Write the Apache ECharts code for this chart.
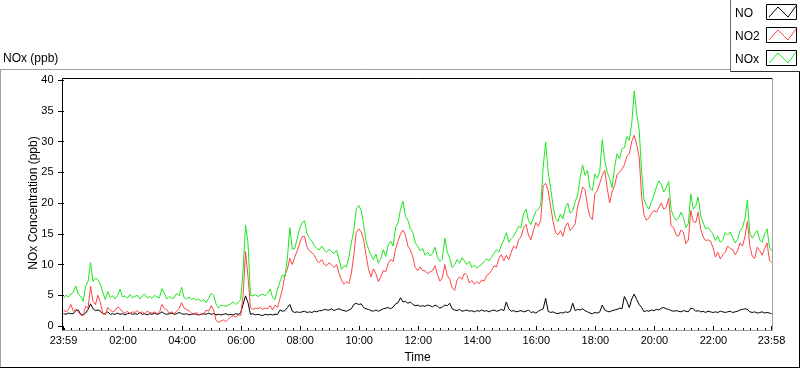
<!DOCTYPE html>
<html><head><meta charset="utf-8">
<script src="https://cdn.jsdelivr.net/npm/echarts@6/dist/echarts.min.js"></script>
<style>html,body{margin:0;padding:0;background:#fff;}#c{width:800px;height:369px;}</style>
</head><body><div id="c"></div>
<script>
// ---- data ----
const seriesNames = ['NO', 'NO2', 'NOx'];
const chartTitle = 'NOx (ppb)';
const yAxisTitle = 'NOx Concentration (ppb)';
const xAxisTitle = 'Time';
// x axis: minutes after midnight (23:59 of the previous day = -1)
const tickMinutes = [-1, 120, 240, 360, 480, 600, 720, 840, 960, 1080, 1200, 1320, 1438];
const tickLabels = ['23:59', '02:00', '04:00', '06:00', '08:00', '10:00', '12:00', '14:00', '16:00', '18:00', '20:00', '22:00', '23:58'];
const minorTickStepMin = 15;
const yMin = 0, yMax = 40, yStep = 5;
// samples every 5 minutes starting at 23:59
const sampleStartMin = -1, sampleStepMin = 5, sampleEndMin = 1438;

const NO = [
2.0,1.9,2.1,2.0,2.0,2.5,2.6,1.9,1.8,2.1,
2.7,3.6,2.8,2.5,2.6,2.4,2.0,2.0,2.3,1.9,
2.0,1.9,2.1,1.9,2.0,1.8,2.0,2.1,1.9,2.0,
1.9,2.2,1.9,2.0,1.8,2.0,1.9,2.1,1.9,2.0,
2.3,2.0,1.9,2.0,2.1,1.9,2.0,2.2,2.0,1.9,
2.0,1.8,1.9,2.0,1.9,1.8,1.9,2.0,1.9,2.1,
1.9,2.0,1.8,1.9,1.8,1.9,2.0,1.8,1.9,1.8,
2.0,1.9,2.1,3.5,4.9,3.8,1.9,2.0,1.8,1.9,
1.8,1.7,1.9,1.8,1.9,1.8,1.9,1.9,2.6,2.4,
2.5,3.0,3.5,2.4,2.2,2.3,2.2,2.3,2.4,2.2,
2.3,2.2,2.4,2.3,2.5,2.5,2.7,2.6,2.6,2.8,
2.5,2.7,2.8,2.6,2.5,2.4,2.6,2.8,3.5,3.7,
3.5,3.6,3.0,2.8,2.7,2.5,2.4,2.6,2.4,2.6,
2.8,2.9,3.0,2.8,3.1,3.6,3.8,4.6,3.9,4.0,
3.7,3.9,3.5,3.3,3.4,3.2,3.3,3.2,3.4,3.3,
3.1,3.4,3.2,2.9,3.1,3.4,3.3,3.7,2.8,2.6,
2.5,2.7,2.4,2.5,2.6,2.4,2.5,2.3,2.5,2.4,
2.6,2.4,2.5,2.3,2.5,2.6,2.4,2.5,2.7,2.5,
3.9,2.8,2.4,2.5,2.3,2.4,2.5,2.3,2.4,2.6,
2.2,2.3,2.1,2.4,2.6,2.8,4.5,2.4,2.2,2.3,
2.1,2.0,2.2,2.1,2.3,2.2,2.4,3.7,2.5,2.7,
2.6,2.8,2.5,2.3,2.1,2.0,2.2,2.1,2.3,3.4,
2.6,2.4,2.3,2.5,2.6,2.7,2.9,2.8,4.8,4.0,
3.0,4.4,5.2,4.3,3.5,3.0,2.3,2.5,2.4,2.6,
2.5,2.7,2.6,2.9,3.0,2.8,2.7,2.5,2.4,2.5,
2.4,2.3,2.5,2.4,2.3,2.9,2.8,2.4,2.5,2.3,
2.4,2.2,2.4,2.3,2.2,2.3,2.2,2.4,2.3,2.2,
2.3,2.4,2.2,2.3,2.4,2.6,2.7,2.8,2.7,2.3,
2.2,2.3,2.1,2.2,2.3,2.1,2.2,2.1,2.0
];

const NO2 = [
2.6,2.3,2.7,3.5,2.4,2.8,2.3,1.8,1.7,3.2,
2.9,6.5,4.0,3.5,5.0,3.8,2.0,1.9,3.0,2.6,
2.3,2.5,3.1,2.8,2.3,2.1,2.4,2.0,2.3,2.2,
2.5,2.1,2.3,2.0,2.4,2.2,2.1,2.3,2.0,2.2,
3.5,2.9,2.6,2.1,2.3,2.0,2.4,2.8,3.8,2.9,
2.7,2.5,2.1,1.9,2.2,1.8,2.0,1.9,2.6,2.4,
3.3,2.6,0.9,0.6,0.8,1.0,0.7,1.1,1.5,1.7,
1.4,1.8,1.7,5.0,12.1,8.0,3.0,2.7,2.9,2.8,
3.0,2.7,2.9,2.8,3.3,2.6,3.4,3.0,4.5,6.0,
8.3,9.2,11.0,10.0,11.2,12.2,13.5,14.5,14.6,12.8,
12.2,11.9,11.5,10.6,10.3,10.8,10.0,9.8,10.3,9.9,
9.5,10.0,8.6,7.5,6.8,7.2,6.9,8.5,11.5,15.2,
15.8,15.3,14.0,11.5,9.2,8.0,9.3,8.5,7.2,8.0,
9.0,8.8,10.2,10.8,10.5,12.5,13.8,15.0,15.6,14.8,
13.0,12.4,11.2,9.5,9.0,9.6,9.0,9.0,8.5,8.8,
9.0,9.8,8.4,7.3,7.8,10.0,8.2,7.6,6.2,5.8,
7.5,8.0,7.6,8.6,8.2,7.0,7.4,6.8,7.2,6.9,
7.5,7.3,8.2,8.5,9.0,9.8,9.6,11.0,11.6,10.6,
11.5,10.8,12.0,13.0,12.6,14.0,14.5,16.0,16.5,14.8,
14.0,15.5,16.8,16.2,17.2,22.8,23.2,22.0,19.5,17.0,
15.2,14.8,15.5,14.6,16.2,16.8,15.5,16.0,16.6,19.5,
20.8,22.6,22.2,19.5,17.8,17.3,21.5,22.0,23.2,24.5,
25.3,22.5,20.0,21.8,22.8,24.6,25.0,25.5,26.2,27.6,
28.0,30.0,31.0,29.5,27.5,21.0,18.0,17.2,17.6,18.3,
18.8,18.5,19.2,20.0,19.0,19.3,20.8,16.3,16.0,14.8,
14.6,15.6,15.2,13.4,14.0,18.8,17.0,16.8,18.5,15.8,
14.5,13.9,14.0,13.8,12.8,11.2,12.0,10.9,11.6,12.0,
13.0,12.6,12.4,11.6,12.2,13.5,13.0,14.5,17.0,13.0,
11.3,11.0,12.8,12.3,11.5,12.6,13.5,10.6,10.3
];

const NOx = [
4.5,5.0,4.7,5.2,5.5,6.5,5.2,4.8,4.0,6.5,
7.3,10.3,7.2,7.8,7.5,6.8,5.5,4.3,5.6,4.6,
4.9,4.4,5.0,6.0,4.7,4.9,4.5,5.1,4.6,4.8,
5.0,4.4,4.9,5.2,4.6,4.8,4.5,5.0,4.7,4.6,
6.1,5.3,4.4,4.8,4.5,4.6,5.3,4.9,6.3,4.6,
4.4,4.7,4.3,4.5,4.2,4.4,4.0,4.3,3.8,4.5,
5.3,5.0,3.6,2.9,3.4,3.3,3.2,3.4,3.6,3.9,
3.5,3.8,4.3,9.0,16.4,13.5,5.0,4.9,5.1,4.8,
5.0,5.2,4.9,5.3,6.0,4.6,4.3,6.0,7.2,8.3,
8.0,11.0,16.0,12.5,12.6,14.2,15.8,16.8,17.1,15.0,
14.2,13.8,13.0,12.6,12.4,13.0,12.3,12.0,12.5,12.1,
11.8,12.3,10.8,9.2,9.8,9.6,11.2,13.5,15.5,19.0,
19.6,18.8,16.5,13.8,12.5,11.5,10.8,11.7,10.2,11.0,
12.4,11.3,13.2,13.8,13.0,16.0,16.8,19.0,20.3,17.8,
17.2,15.8,15.2,13.5,13.0,12.2,12.6,11.5,12.0,11.4,
11.8,12.8,11.2,10.5,10.9,14.3,12.0,11.0,9.5,10.0,
10.8,10.2,11.1,10.6,10.0,10.5,9.5,9.9,9.4,9.8,
10.0,10.5,10.9,10.6,11.2,11.8,12.4,12.0,13.2,14.0,
15.2,13.6,14.2,14.6,15.4,16.2,16.0,18.3,19.0,17.2,
16.5,17.6,18.6,19.0,19.6,25.9,29.9,25.0,22.5,19.5,
17.5,17.0,18.2,17.4,19.2,20.0,18.3,18.8,20.2,21.3,
24.0,26.2,24.5,25.3,22.4,22.0,24.7,24.0,25.2,30.3,
27.0,25.0,24.0,22.5,25.8,28.0,27.2,28.8,29.0,30.8,
30.2,33.0,38.2,34.5,32.0,25.0,20.5,19.6,19.0,20.2,
21.2,22.6,23.6,23.0,21.8,22.5,23.5,18.9,17.8,17.2,
17.5,18.5,17.6,16.0,16.6,21.5,19.0,19.5,21.0,18.0,
16.8,15.8,16.0,15.5,15.0,13.9,14.6,13.6,14.0,15.2,
14.8,15.3,14.4,13.5,14.0,15.5,16.0,17.5,20.5,15.0,
14.3,15.0,15.5,14.0,13.6,15.0,15.8,12.8,12.2
];

// ---- styles / layout ----
const colors = { NO: '#000000', NO2: '#ff4545', NOx: '#1ee61e' };
const FONT = 'Liberation Sans';
const GL = 63.5, GT = 80, GW = 708, GH = 249.5;

function pairs(vals) {
  return vals.map((v, i) => [Math.min(sampleStartMin + i * sampleStepMin, sampleEndMin), v]);
}
const minorTicks = [];
for (let m = 0; m <= sampleEndMin; m += minorTickStepMin) minorTicks.push(m);

const chart = echarts.init(document.getElementById('c'), null, { renderer: 'canvas' });

// legend drawn as graphics (LabVIEW-style plot legend)
const legendEls = [];
const lx = 730.5;
legendEls.push({ type: 'rect', shape: { x: lx, y: -1, width: 800 - lx + 1, height: 72.5 }, style: { fill: '#fff', stroke: null }, z: 10 });
legendEls.push({ type: 'line', shape: { x1: lx, y1: 0, x2: lx, y2: 71.5 }, style: { stroke: '#6e6e6e', lineWidth: 1 }, z: 11 });
legendEls.push({ type: 'line', shape: { x1: lx, y1: 71.5, x2: 800, y2: 71.5 }, style: { stroke: '#303030', lineWidth: 1 }, z: 11 });
seriesNames.forEach((n, k) => {
  const y0 = 4 + k * 23;
  legendEls.push({ type: 'text', x: 735, y: y0 + 9.5, style: { text: n, font: '12px ' + FONT, fill: '#000', verticalAlign: 'middle', align: 'left' }, z: 12 });
  legendEls.push({ type: 'rect', shape: { x: 766.5, y: y0 + 0.5, width: 30, height: 15 }, style: { fill: '#fff', stroke: '#000', lineWidth: 1 }, z: 12 });
  legendEls.push({ type: 'polyline', shape: { points: [[769, y0 + 13], [778, y0 + 3], [788, y0 + 13], [796, y0 + 2]] }, style: { stroke: colors[n], lineWidth: 1, fill: null }, z: 13 });
});

const frameEls = [
  // outer panel
  { type: 'line', shape: { x1: 0, y1: 69.5, x2: lx, y2: 69.5 }, style: { stroke: '#a0a0a0', lineWidth: 1 }, z: 5 },
  { type: 'line', shape: { x1: 0.5, y1: 69.5, x2: 0.5, y2: 368 }, style: { stroke: '#a0a0a0', lineWidth: 1 }, z: 5 },
  { type: 'line', shape: { x1: 0, y1: 367.5, x2: 800, y2: 367.5 }, style: { stroke: '#000', lineWidth: 1 }, z: 5 },
  { type: 'line', shape: { x1: 799.5, y1: 71, x2: 799.5, y2: 368 }, style: { stroke: '#000', lineWidth: 1 }, z: 5 },
  // plot frame
  { type: 'line', shape: { x1: 62.5, y1: 78.5, x2: 772.5, y2: 78.5 }, style: { stroke: '#000', lineWidth: 1 }, z: 5 },
  { type: 'line', shape: { x1: 62.5, y1: 78.5, x2: 62.5, y2: 330.5 }, style: { stroke: '#000', lineWidth: 1 }, z: 5 },
  { type: 'line', shape: { x1: 62.5, y1: 330.5, x2: 772.5, y2: 330.5 }, style: { stroke: '#a0a0a0', lineWidth: 1 }, z: 5 },
  { type: 'line', shape: { x1: 772.5, y1: 78.5, x2: 772.5, y2: 330.5 }, style: { stroke: '#a0a0a0', lineWidth: 1 }, z: 5 }
];

const option = {
  animation: false,
  backgroundColor: '#fff',
  title: { text: chartTitle, left: 3, top: 53, padding: 0, textStyle: { fontFamily: FONT, fontSize: 12, fontWeight: 'normal', color: '#000' } },
  grid: { left: GL, top: GT, width: GW, height: GH, containLabel: false },
  xAxis: [{
    type: 'value', min: tickMinutes[0], max: tickMinutes[tickMinutes.length - 1], offset: 2,
    name: xAxisTitle, nameLocation: 'middle', nameGap: 24, nameMoveOverlap: false,
    nameTextStyle: { fontFamily: FONT, fontSize: 12, color: '#000', verticalAlign: 'top' },
    axisLine: { show: false },
    axisTick: { show: true, length: 5, customValues: tickMinutes, lineStyle: { color: '#000', width: 1 } },
    axisLabel: { show: true, customValues: tickMinutes, margin: 7, fontFamily: FONT, fontSize: 11, color: '#000',
      formatter: v => { const k = tickMinutes.indexOf(v); return k >= 0 ? tickLabels[k] : ''; } },
    splitLine: { show: false }
  }, {
    type: 'value', min: tickMinutes[0], max: tickMinutes[tickMinutes.length - 1], offset: 2, position: 'bottom',
    axisLine: { show: false },
    axisTick: { show: true, length: 3, customValues: minorTicks, lineStyle: { color: '#000', width: 1 } },
    axisLabel: { show: false }, splitLine: { show: false }
  }],
  yAxis: {
    type: 'value', min: yMin, max: yMax, interval: yStep, offset: 2,
    name: yAxisTitle, nameLocation: 'middle', nameGap: 22, nameRotate: 90, nameMoveOverlap: false,
    nameTextStyle: { fontFamily: FONT, fontSize: 12, color: '#000' },
    axisLine: { show: false },
    axisTick: { show: true, length: 6, lineStyle: { color: '#000', width: 1 } },
    axisLabel: { margin: 8, fontFamily: FONT, fontSize: 11, color: '#000' },
    splitLine: { show: false }
  },
  series: [
    { name: 'NO', type: 'line', data: pairs(NO), showSymbol: false, symbol: 'none', lineStyle: { color: colors.NO, width: 1 }, itemStyle: { color: colors.NO }, z: 2 },
    { name: 'NO2', type: 'line', data: pairs(NO2), showSymbol: false, symbol: 'none', lineStyle: { color: colors.NO2, width: 1 }, itemStyle: { color: colors.NO2 }, z: 3 },
    { name: 'NOx', type: 'line', data: pairs(NOx), showSymbol: false, symbol: 'none', lineStyle: { color: colors.NOx, width: 1 }, itemStyle: { color: colors.NOx }, z: 4 }
  ],
  graphic: { elements: frameEls.concat(legendEls) }
};
chart.setOption(option);
</script>
</body></html>
